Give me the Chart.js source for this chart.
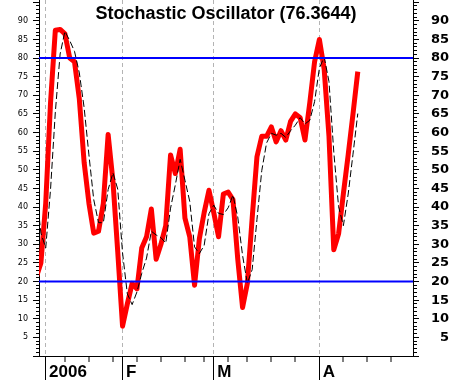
<!DOCTYPE html>
<html>
<head>
<meta charset="utf-8">
<script src="https://cdn.jsdelivr.net/npm/chart.js@4.4.1/dist/chart.umd.min.js"></script>
<style>
  html, body { margin: 0; padding: 0; background: #fff; }
  #wrap { width: 451px; height: 381px; position: relative; }
</style>
</head>
<body>
<div id="wrap"><canvas id="stochChart"></canvas></div>
<script>
// %K (red) and %D (black dashed), one value per trading day
const kValues = [21, 25, 41, 68, 87.5, 87.7, 86.5, 80, 79, 69,
                 52, 41, 33, 33.5, 41, 59.5, 47, 28, 8, 14,
                 19.5, 18, 29, 32, 39.5, 26, 30, 35, 54, 49,
                 55.5, 37, 32, 19, 31.5, 38.5, 44.5, 38.5, 32, 43.5,
                 44, 42, 26, 13, 19.5, 37, 53.5, 59, 59, 61.5,
                 57.5, 60.5, 58, 63, 65, 64, 58, 68, 79, 85,
                 77, 59, 28.5, 32.8, 43.6, 54, 65, 76.3644];
const dValues = [45, 33, 29, 44.7, 65.5, 81.1, 87.2, 84.7, 81.8, 76,
                 66.7, 54, 42, 35.8, 35.8, 44.7, 49.2, 44.8, 27.7, 16.7,
                 13.8, 17.2, 22.2, 26.3, 33.5, 32.5, 31.8, 30.3, 39.7, 46,
                 52.8, 47.2, 41.5, 29.3, 27.5, 29.7, 38.2, 40.5, 38.3, 38,
                 39.8, 43.2, 37.3, 27, 19.5, 23.2, 36.7, 49.8, 57.2, 59.8,
                 59.3, 59.8, 58.7, 60.5, 62, 64, 62.3, 63.3, 68.3, 77.3,
                 80.3, 73.7, 54.8, 40.1, 35, 43.5, 54.2, 65.1];
const levelLines = [80, 20];
const monthTicks = [2, 18, 37, 59];
const monthLabels = ['2006', 'F', 'M', 'A'];
const weekTicks = [6, 11, 16, 21, 26, 31, 35, 40, 44, 49, 54, 64, 69, 74];
const titleText = 'Stochastic Oscillator (76.3644)';

const xMin = 0.6, xMax = 78.5;
const yMin = 0, yMax = 95.6;

document.addEventListener('DOMContentLoaded', function () {
    const yTicks = [];
    for (let v = 0; v <= 95; v++) yTicks.push({ value: v });
    const xTicks = monthTicks.concat(weekTicks).sort((a, b) => a - b).map(v => ({ value: v }));
    const isMonth = v => monthTicks.indexOf(v) !== -1;
    const yLabel = v => (v % 5 === 0 && v >= 5 && v <= 90) ? String(v) : '';
    // no label overflow padding, the plot runs to the top edge
    const noPad = (s) => { s.paddingTop = 0; s.paddingBottom = 0; s.paddingLeft = 0; s.paddingRight = 0; };

    // title sits inside the plot area
    const insideTitle = {
        id: 'insideTitle',
        afterDraw(chart) {
            const { ctx, chartArea } = chart;
            ctx.save();
            ctx.font = 'bold 18px "Liberation Sans", Arial, sans-serif';
            ctx.fillStyle = '#000';
            ctx.textAlign = 'center';
            ctx.textBaseline = 'alphabetic';
            ctx.fillText(titleText, (chartArea.left + chartArea.right) / 2, 19);
            ctx.restore();
        }
    };

    const levelSets = levelLines.map(v => ({
        data: [{ x: xMin, y: v }, { x: xMax, y: v }],
        borderColor: '#0000ff',
        borderWidth: 2,
        pointRadius: 0,
        clip: 0,
    }));

    const ctx = document.getElementById('stochChart').getContext('2d');
    const stochChart = new Chart(ctx, {
        type: 'line',
        data: {
            datasets: levelSets.concat([
                {
                    label: '%D',
                    data: dValues.map((v, i) => ({ x: i, y: v })),
                    borderColor: '#000',
                    borderWidth: 1,
                    borderDash: [7, 3],
                    pointRadius: 0,
                    tension: 0,
                    clip: 0,
                },
                {
                    label: '%K',
                    data: kValues.map((v, i) => ({ x: i, y: v })),
                    borderColor: '#ff0000',
                    borderWidth: 5,
                    borderJoinStyle: 'round',
                    pointRadius: 0,
                    tension: 0,
                    clip: 0,
                },
            ]),
        },
        options: {
            responsive: true,
            maintainAspectRatio: false,
            animation: false,
            layout: { padding: { left: 0, right: 2, top: 0, bottom: 0 }, autoPadding: false },
            plugins: {
                legend: { display: false },
                tooltip: { enabled: false },
            },
            scales: {
                x: {
                    type: 'linear',
                    min: xMin,
                    max: xMax,
                    afterBuildTicks: s => { s.ticks = xTicks.slice(); },
                    afterFit: s => { s.height = 25; noPad(s); },
                    grid: {
                        drawOnChartArea: true,
                        color: '#b4b4b4',
                        lineWidth: c => isMonth(c.tick.value) ? 1 : 0,
                        tickLength: 24,
                        tickWidth: 1,
                        tickColor: '#000',
                        tickBorderDash: c => isMonth(c.tick.value) ? [] : [5, 100],
                    },
                    border: { display: true, color: '#000', width: 1, dash: [4, 3] },
                    ticks: {
                        autoSkip: false,
                        maxRotation: 0,
                        align: 'start',
                        padding: -18,
                        color: '#000',
                        font: { family: '"Liberation Sans", Arial, sans-serif', size: 17, weight: 'bold' },
                        callback: v => isMonth(v) ? '\u2009' + monthLabels[monthTicks.indexOf(v)] : '',
                    },
                },
                y: {
                    position: 'left',
                    min: yMin,
                    max: yMax,
                    afterBuildTicks: s => { s.ticks = yTicks.slice(); },
                    afterFit: s => { s.width = 39; noPad(s); },
                    grid: {
                        drawOnChartArea: false,
                        tickLength: 6,
                        tickWidth: 1,
                        tickColor: '#000',
                        tickBorderDash: c => c.tick.value % 5 === 0 ? [] : [0, 3, 3, 100],
                    },
                    border: { color: '#000', width: 1 },
                    ticks: {
                        autoSkip: false,
                        padding: 5,
                        color: '#000',
                        font: { family: '"DejaVu Sans", sans-serif', size: 8 },
                        callback: yLabel,
                    },
                },
                y2: {
                    position: 'right',
                    min: yMin,
                    max: yMax,
                    afterBuildTicks: s => { s.ticks = yTicks.slice(); },
                    afterFit: s => { s.width = 36; noPad(s); },
                    grid: {
                        drawOnChartArea: false,
                        tickLength: 6,
                        tickWidth: 1,
                        tickColor: '#000',
                        tickBorderDash: c => c.tick.value % 5 === 0 ? [] : [3, 100],
                    },
                    border: { color: '#000', width: 1 },
                    ticks: {
                        autoSkip: false,
                        crossAlign: 'far',
                        padding: 10,
                        color: '#000',
                        font: { family: '"DejaVu Sans", sans-serif', size: 13, weight: 'bold' },
                        callback: yLabel,
                    },
                },
            },
        },
        plugins: [insideTitle],
    });
});
</script>
</body>
</html>
